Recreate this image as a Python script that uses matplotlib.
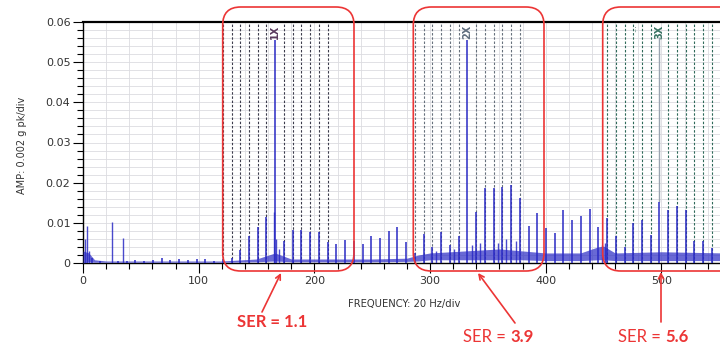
import numpy as np
import matplotlib
matplotlib.use("Agg")
import matplotlib.pyplot as plt
import matplotlib.ticker as mticker
from matplotlib.patches import FancyBboxPatch
from matplotlib.transforms import IdentityTransform

# ── data ──────────────────────────────────────────────────────────────────────
# comb of peaks (Hz, g pk)
comb_freq = [7.6, 15.1, 30.2, 37.8, 45.3, 52.9, 60.4, 68.0, 75.5, 83.1, 90.6, 98.2,
             105.7, 113.3, 120.8, 128.4, 135.9, 143.5, 151.0, 158.6, 166.1, 173.7,
             181.2, 188.8, 196.3, 203.9, 211.4, 219.0, 226.5, 234.1, 241.6, 249.2,
             256.7, 264.3, 271.8, 279.4, 286.9, 294.5, 302.0, 309.6, 317.1, 324.7,
             332.2, 339.8, 347.3, 354.9, 362.4, 370.0, 377.5, 385.1, 392.6, 400.2,
             407.7, 415.3, 422.8, 430.4, 437.9, 445.5, 453.0, 460.6, 468.1, 475.7,
             483.2, 490.8, 498.3, 505.9, 513.4, 521.0, 528.5, 536.1, 543.6]
comb_amp = [0.0012, 0.0004, 0.0005, 0.0004, 0.0007, 0.0005, 0.0008, 0.0012, 0.0007,
            0.0010, 0.0008, 0.0009, 0.0010, 0.0006, 0.0009, 0.0012, 0.0032, 0.0066,
            0.0090, 0.0114, 0.0555, 0.0055, 0.0082, 0.0082, 0.0078, 0.0078, 0.0053,
            0.0047, 0.0058, 0.0055, 0.0048, 0.0067, 0.0062, 0.0080, 0.0090, 0.0053,
            0.0026, 0.0071, 0.0040, 0.0078, 0.0045, 0.0068, 0.0555, 0.0127, 0.0186,
            0.0186, 0.0190, 0.0194, 0.0161, 0.0092, 0.0124, 0.0088, 0.0075, 0.0132,
            0.0106, 0.0117, 0.0134, 0.0090, 0.0113, 0.0066, 0.0040, 0.0100, 0.0107,
            0.0070, 0.0153, 0.0132, 0.0142, 0.0132, 0.0056, 0.0056, 0.0037]

# other peaks (low frequency lines, skirts)
extra_freq = [1.5, 3.3, 5.0, 24.8, 34.8, 165.4, 167.0, 169.2, 305.0, 321.0, 336.0,
              343.0, 359.0, 366.0, 374.0, 449.0, 451.0]
extra_amp = [0.0060, 0.0092, 0.0030, 0.0103, 0.0063, 0.0128, 0.0060, 0.0035, 0.0030,
             0.0035, 0.0045, 0.0050, 0.0050, 0.0060, 0.0055, 0.0045, 0.0050]

# noise floor band
floor_freq = [0, 5, 10, 20, 120, 150, 166, 180, 250, 280, 290, 300, 330, 360, 380,
              400, 430, 445, 450, 460, 500, 555]
floor_lo = [0.0, 0.0003, 0.0002, 0.0002, 0.0002, 0.0003, 0.0005, 0.0003, 0.0003,
            0.0004, 0.0005, 0.0008, 0.0008, 0.0008, 0.0008, 0.0006, 0.0006, 0.0008,
            0.0008, 0.0006, 0.0006, 0.0006]
floor_hi = [0.0030, 0.0025, 0.0008, 0.0005, 0.0005, 0.0010, 0.0025, 0.0010, 0.0010,
            0.0012, 0.0020, 0.0025, 0.0030, 0.0035, 0.0030, 0.0025, 0.0025, 0.0040,
            0.0042, 0.0025, 0.0028, 0.0025]

# harmonic marker lines
marks_1x = [120.8, 128.4, 135.9, 143.5, 151.0, 158.6, 173.7, 181.2, 188.8, 196.3, 203.9, 211.4]
marks_2x = [286.9, 294.5, 302.0, 309.6, 317.1, 324.7, 339.8, 347.3, 354.9, 362.4, 370.0, 377.5]
marks_3x = [453.0, 460.6, 468.1, 475.7, 483.2, 490.8, 505.9, 513.4, 521.0, 528.5, 536.1, 543.6]
order_freq = [166.1, 332.2, 498.3]
order_labels = ["1X", "2X", "3X"]

ser_labels = [("SER = 1.1", ""), ("SER = ", "3.9"), ("SER = ", "5.6")]

# ── figure ────────────────────────────────────────────────────────────────────
W, H = 720, 344
fig = plt.figure(figsize=(W / 100, H / 100), dpi=100, facecolor="white")
ax = fig.add_axes([83 / W, 81 / H, 1 - 83 / W, 241 / H])

BLUE = "#2a2ac4"
RED = "#ec3535"

ax.fill_between(floor_freq, floor_lo, floor_hi, color=BLUE, alpha=0.7, lw=0, zorder=3)
ax.vlines(comb_freq, 0, comb_amp, color=BLUE, lw=1.1, zorder=4)
ax.vlines(extra_freq, 0, extra_amp, color=BLUE, lw=1.0, alpha=0.85, zorder=4)

dash = (0, (2.2, 1.6))
for f in marks_1x:
    ax.axvline(f, color="#3c3c4c", lw=0.8, ls=dash, zorder=2)
for f in marks_2x:
    ax.axvline(f, color="#66707c", lw=0.8, ls=dash, zorder=2)
for f in marks_3x:
    ax.axvline(f, color="#2f6a5a", lw=0.8, ls=dash, zorder=2)
ax.vlines(order_freq[2], comb_amp[64], 0.0562, color="#9aa4b0", lw=1.0, zorder=2)

label_colors = ["#5a3a5e", "#5f6d7d", "#3a7464"]
for f, s, c in zip(order_freq, order_labels, label_colors):
    ax.text(f, 0.0594, s, rotation=90, ha="center", va="top", fontsize=7,
            fontweight="bold", color=c, zorder=5)
ax.text(marks_3x[3], 0.0594, "...", rotation=90, ha="center", va="top", fontsize=6,
        color="#2f6a5a", zorder=5)

ax.set_xlim(0, 550.6)
ax.set_ylim(0, 0.06)
ax.xaxis.set_major_locator(mticker.MultipleLocator(100))
ax.xaxis.set_minor_locator(mticker.MultipleLocator(20))
ax.yaxis.set_major_locator(mticker.MultipleLocator(0.01))
ax.yaxis.set_minor_locator(mticker.MultipleLocator(0.002))
ax.yaxis.set_major_formatter(mticker.FuncFormatter(lambda v, _: "0" if v == 0 else f"{v:.2f}"))
ax.grid(which="both", color="#dcdce0", lw=0.6, zorder=0)
ax.set_axisbelow(True)
ax.tick_params(which="major", direction="out", length=7, width=0.8, labelsize=8,
               labelcolor="#333333", pad=2)
ax.tick_params(which="minor", direction="out", length=4, width=0.8)
ax.spines["right"].set_visible(False)
ax.spines["top"].set_linewidth(1.6)
for s in ["left", "bottom"]:
    ax.spines[s].set_linewidth(1.0)

fig.text(22 / W, 1 - 145 / H, "AMP: 0.002 g pk/div", rotation=90, ha="center",
         va="center", fontsize=7, color="#333333")
fig.text(404 / W, 1 - 304.5 / H, "FREQUENCY: 20 Hz/div", ha="center", va="center",
         fontsize=7.2, color="#333333")

# ── red boxes, arrows and SER labels ─────────────────────────────────────────
boxes = [(222.7, 354.0), (413.3, 544.0), (602.7, 745.0)]
for x0, x1 in boxes:
    p = FancyBboxPatch((x0, H - 271), x1 - x0, 264,
                       boxstyle="round,pad=0,rounding_size=18",
                       transform=IdentityTransform(), fill=False, ec=RED, lw=1.2)
    fig.add_artist(p)

arrows = [((281, 273), (262, 312)), ((478, 273), (515, 323)), ((661, 272), (661, 322))]
for (tx, ty), (sx, sy) in arrows:
    fig.add_artist(plt.Annotation("", xy=(tx, H - ty), xytext=(sx, H - sy),
                                  xycoords="figure pixels", textcoords="figure pixels",
                                  arrowprops=dict(arrowstyle="->", color=RED, lw=1.2,
                                                  shrinkA=0, shrinkB=0, mutation_scale=9)))

font = ["Lato", "DejaVu Sans"]
fig.text(271.7 / W, 1 - 322 / H, ser_labels[0][0], ha="center", va="center",
         fontsize=12, fontweight="bold", color=RED, family=font)
for (a, b), xs in zip(ser_labels[1:], [510, 665]):
    fig.text(xs / W, 1 - 336.5 / H, a, ha="right", va="center", fontsize=12,
             color=RED, family=font)
    fig.text(xs / W, 1 - 336.5 / H, b, ha="left", va="center", fontsize=12,
             fontweight="bold", color=RED, family=font)

fig.savefig("out.png", dpi=100)
